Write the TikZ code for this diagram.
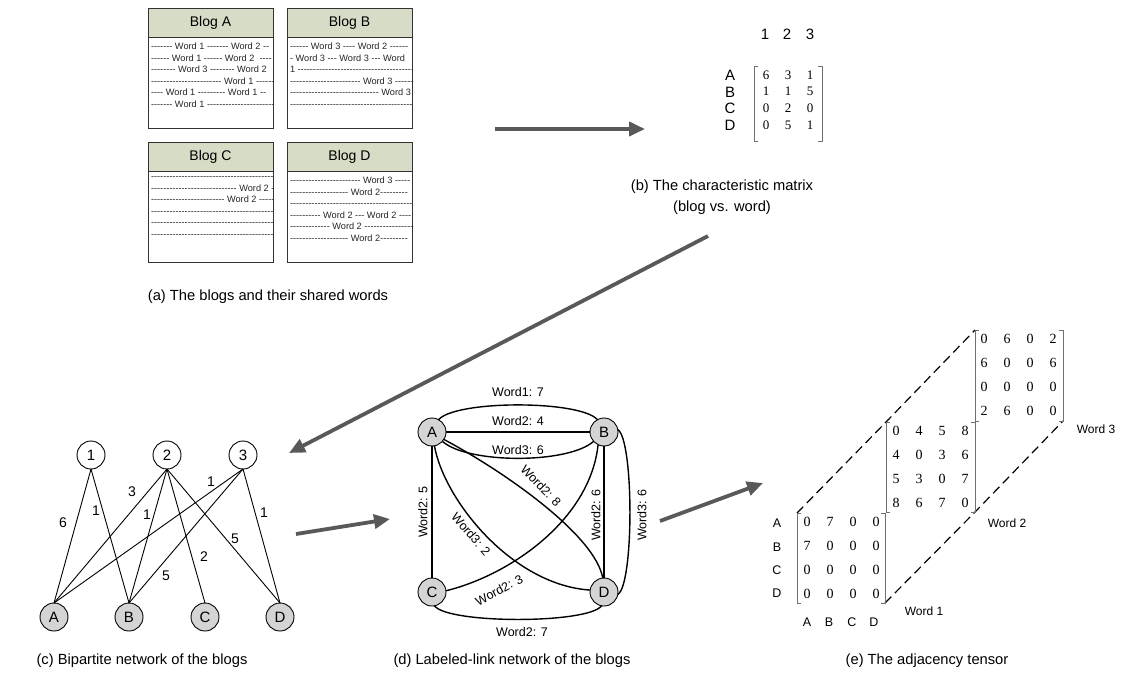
\documentclass[tikz,border=0pt]{standalone}
\usepackage{fontspec}
\setmainfont{Liberation Sans}
\newfontfamily\tmsfont{Liberation Serif}
\newfontfamily\blogfont{Liberation Sans}[Ligatures=TeXOff]
\usetikzlibrary{arrows.meta}
\definecolor{headfill}{HTML}{D7DCC6}
\definecolor{arrowgray}{HTML}{595959}
\definecolor{nodegray}{HTML}{D4D4D4}
\definecolor{brkgray}{HTML}{707070}

\newcommand\blogcard[5]{%
  \draw[blogframe] (#2,#3) rectangle ++(125,120);
  \begin{scope}
    \clip (#2,#3) rectangle ++(125,120);
    \node[blogtxt] (#1body) at (#2+3,#3+35) {#5};
  \end{scope}
  \node[bloghead, anchor=north west] (#1) at (#2,#3) {#4};
}
\newcommand\bracketpair[4]{%
  \draw[brk] (#1+4,#2) -- (#1,#2) -- (#1,#4) -- (#1+4,#4);
  \draw[brk] (#3-4,#2) -- (#3,#2) -- (#3,#4) -- (#3-4,#4);
}
\newcommand\numgrid[6]{%
  \foreach \rowvals [count=\ri] in {#6} {
    \foreach \v [count=\ci] in \rowvals {
      \node[num] (#1-\ri-\ci) at ({#2+(\ci-1)*#4},{#3+(\ri-1)*#5}) {\v};
    }
  }
}

\begin{document}
\begin{tikzpicture}[x=1pt,y=-1pt,
 every node/.style={inner sep=0pt, outer sep=0pt},
 captxt/.style={font=\fontsize{14.7}{21}\selectfont, align=center},
 blogframe/.style={draw=black!80, line width=1pt, fill=white},
 bloghead/.style={draw=black!80, line width=1pt, fill=headfill, minimum width=125pt, minimum height=29pt, font=\fontsize{14}{16}\selectfont},
 blogtxt/.style={font=\blogfont\fontsize{9.2}{11.5}\selectfont, align=left, anchor=north west, text=black!85},
 lbl/.style={font=\fontsize{15}{17}\selectfont},
 num/.style={font=\tmsfont\fontsize{13}{15}\selectfont},
 brk/.style={draw=brkgray, line width=0.9pt},
 bigarrow/.style={draw=arrowgray, line width=3.8pt, -{Triangle[length=16pt,width=14pt]}},
 wnode/.style={circle, draw=black, line width=0.9pt, fill=white, minimum size=28pt, font=\fontsize{15}{17}\selectfont},
 gnode/.style={wnode, fill=nodegray},
 bedge/.style={draw=black, line width=0.9pt},
 ledge/.style={draw=black, line width=1.4pt},
 elbl/.style={font=\fontsize{14}{16}\selectfont},
 wlbl/.style={font=\fontsize{12.5}{15}\selectfont},
 tensorlink/.style={draw=black, line width=1.2pt, dash pattern=on 9pt off 5pt},
]
\useasboundingbox (0,0) rectangle (1121,681);

% ---------------- (a) blogs
\blogcard{blogA}{148}{8}{Blog A}{------- Word 1 ------- Word 2 --\\------ Word 1 ------ Word 2 \ ----\\-------- Word 3 -------- Word 2\\----------------------- Word 1 -------\\---- Word 1 --------- Word 1 --\\------- Word 1 ----------------------}
\blogcard{blogB}{287}{8}{Blog B}{------ Word 3 ---- Word 2 ------\\- Word 3 --- Word 3 --- Word\\1 ------------------------------------------\\----------------------- Word 3 ------\\----------------------------- Word 3\\------------------------------------------}
\blogcard{blogC}{148}{142}{Blog C}{------------------------------------------\\---------------------------- Word 2 -\\------------------------ Word 2 -----\\------------------------------------------\\------------------------------------------\\------------------------------------------}
\blogcard{blogD}{287}{142}{Blog D}{----------------------- Word 3 -----\\------------------- Word 2---------\\------------------------------------------\\---------- Word 2 --- Word 2 ----\\------------- Word 2 ----------------\\------------------- Word 2---------}
\node[captxt] (capA) at (268,297) {(a) The blogs and their shared words};

% ---------------- (b) characteristic matrix
\node[lbl] (bc1) at (765,34) {1};
\node[lbl] (bc2) at (787,34) {2};
\node[lbl] (bc3) at (810,34) {3};
\node[lbl] (brA) at (730,75) {A};
\node[lbl] (brB) at (730,92) {B};
\node[lbl] (brC) at (730,108.5) {C};
\node[lbl] (brD) at (730,125) {D};
\bracketpair{754}{66}{822}{141}
\numgrid{bm}{766}{75}{22}{16.7}{{6,3,1},{1,1,5},{0,2,0},{0,5,1}}
\node[captxt] (capB) at (722,197) {(b) The characteristic matrix\\(blog vs. word)};

% ---------------- (c) bipartite network
\node[wnode] (n1) at (91,455) {1};
\node[wnode] (n2) at (167,455) {2};
\node[wnode] (n3) at (243,455) {3};
\node[gnode] (cA) at (54,617) {A};
\node[gnode] (cB) at (129,617) {B};
\node[gnode] (cC) at (205,617) {C};
\node[gnode] (cD) at (280,617) {D};
\draw[bedge] (n1.south) -- (cA.north);
\draw[bedge] (n1.south) -- (cB.north);
\draw[bedge] (n2.south) -- (cA.north);
\draw[bedge] (n2.south) -- (cB.north);
\draw[bedge] (n2.south) -- (cC.north);
\draw[bedge] (n2.south) -- (cD.north);
\draw[bedge] (n3.south) -- (cA.north);
\draw[bedge] (n3.south) -- (cB.north);
\draw[bedge] (n3.south) -- (cD.north);
\node[elbl] (l1A) at (63,523) {6};
\node[elbl] (l1B) at (96,511) {1};
\node[elbl] (l2A) at (132,492) {3};
\node[elbl] (l2B) at (147,515) {1};
\node[elbl] (l3A) at (211,482) {1};
\node[elbl] (l2D) at (235,539) {5};
\node[elbl] (l2C) at (204,557) {2};
\node[elbl] (l3B) at (166,576) {5};
\node[elbl] (l3D) at (264,513) {1};
\node[captxt] (capC) at (142,661) {(c) Bipartite network of the blogs};

% ---------------- (d) labeled-link network
\node[gnode] (dA) at (432,432) {A};
\node[gnode] (dB) at (604,432) {B};
\node[gnode] (dC) at (432,592) {C};
\node[gnode] (dD) at (604,592) {D};
\draw[ledge] (dA) -- (dB);
\draw[ledge] (dA.62) .. controls (456,400) and (580,400) .. (dB.118);
\draw[ledge] (dA.-42) .. controls (468,464) and (568,464) .. (dB.-138);
\draw[ledge] (dA) -- (dC);
\draw[ledge] (dB) -- (dD);
\draw[ledge] (dB.10) .. controls (634,440) and (634,585) .. (dD.-10);
\draw[ledge] (dC.-80) .. controls (448,624) and (588,624) .. (dD.-100);
\draw[ledge] (dA.-32) .. controls (505,472) and (595,535) .. (dD.95);
\draw[ledge] (dA.-80) .. controls (444,500) and (512,585) .. (dD.172);
\draw[ledge] (dC.5) .. controls (510,575) and (590,520) .. (dB.-115);
\node[wlbl] (dl1) at (518,392) {Word1: 7};
\node[wlbl] (dl2) at (518,421) {Word2: 4};
\node[wlbl] (dl3) at (518,450) {Word3: 6};
\node[wlbl, rotate=90] (dl4) at (423,512) {Word2: 5};
\node[wlbl, rotate=-49] (dl5) at (471,534) {Word3: 2};
\node[wlbl, rotate=-46] (dl6) at (541,486) {Word2: 8};
\node[wlbl, rotate=90] (dl7) at (596,515) {Word2: 6};
\node[wlbl, rotate=90] (dl8) at (642,515) {Word3: 6};
\node[wlbl, rotate=28] (dl9) at (499,590) {Word2: 3};
\node[wlbl] (dl10) at (522,632) {Word2: 7};
\node[captxt] (capD) at (512,661) {(d) Labeled-link network of the blogs};

% ---------------- (e) adjacency tensor
\coordinate (w1tl) at (797,513);
\coordinate (w2tl) at (886,422);
\coordinate (w3tl) at (975,330);
\coordinate (w1br) at (885,603);
\coordinate (w2br) at (975,512);
\coordinate (w3br) at (1063,421);
\draw[tensorlink] (w1tl) -- (w2tl) -- (w3tl);
\draw[tensorlink] (w1br) -- (w2br) -- (w3br);
\bracketpair{975}{330}{1063}{421}
\bracketpair{886}{422}{975}{512}
\bracketpair{797}{513}{885}{603}
\begin{scope}[num/.append style={font=\tmsfont\fontsize{14}{16}\selectfont}]
\numgrid{wc}{984}{339}{23}{24}{{0,6,0,2},{6,0,0,6},{0,0,0,0},{2,6,0,0}}
\numgrid{wb}{896}{431}{23}{24}{{0,4,5,8},{4,0,3,6},{5,3,0,7},{8,6,7,0}}
\numgrid{wa}{807}{522}{23}{24}{{0,7,0,0},{7,0,0,0},{0,0,0,0},{0,0,0,0}}
\end{scope}
\node[wlbl] (erA) at (777,523) {A};
\node[wlbl] (erB) at (777,547) {B};
\node[wlbl] (erC) at (777,570) {C};
\node[wlbl] (erD) at (777,593) {D};
\node[wlbl] (ecA) at (807,622) {A};
\node[wlbl] (ecB) at (829,622) {B};
\node[wlbl] (ecC) at (852,622) {C};
\node[wlbl] (ecD) at (874,622) {D};
\node[wlbl, font=\fontsize{12}{14}\selectfont] (word1) at (924,611) {Word 1};
\node[wlbl, font=\fontsize{12}{14}\selectfont] (word2) at (1007,523) {Word 2};
\node[wlbl, font=\fontsize{12}{14}\selectfont] (word3) at (1096,429) {Word 3};
\node[captxt] (capE) at (927,661) {(e) The adjacency tensor};

% ---------------- flow arrows
\coordinate (ar1s) at (495,129);
\coordinate (ar1e) at (645,129);
\coordinate (ar2s) at (708,236);
\coordinate (ar2e) at (289,453);
\coordinate (ar3s) at (296,534);
\coordinate (ar3e) at (390,519);
\coordinate (ar4s) at (660,521);
\coordinate (ar4e) at (763,483);
\draw[bigarrow] (ar1s) -- (ar1e);
\draw[bigarrow] (ar2s) -- (ar2e);
\draw[bigarrow] (ar3s) -- (ar3e);
\draw[bigarrow] (ar4s) -- (ar4e);
\end{tikzpicture}
\end{document}
